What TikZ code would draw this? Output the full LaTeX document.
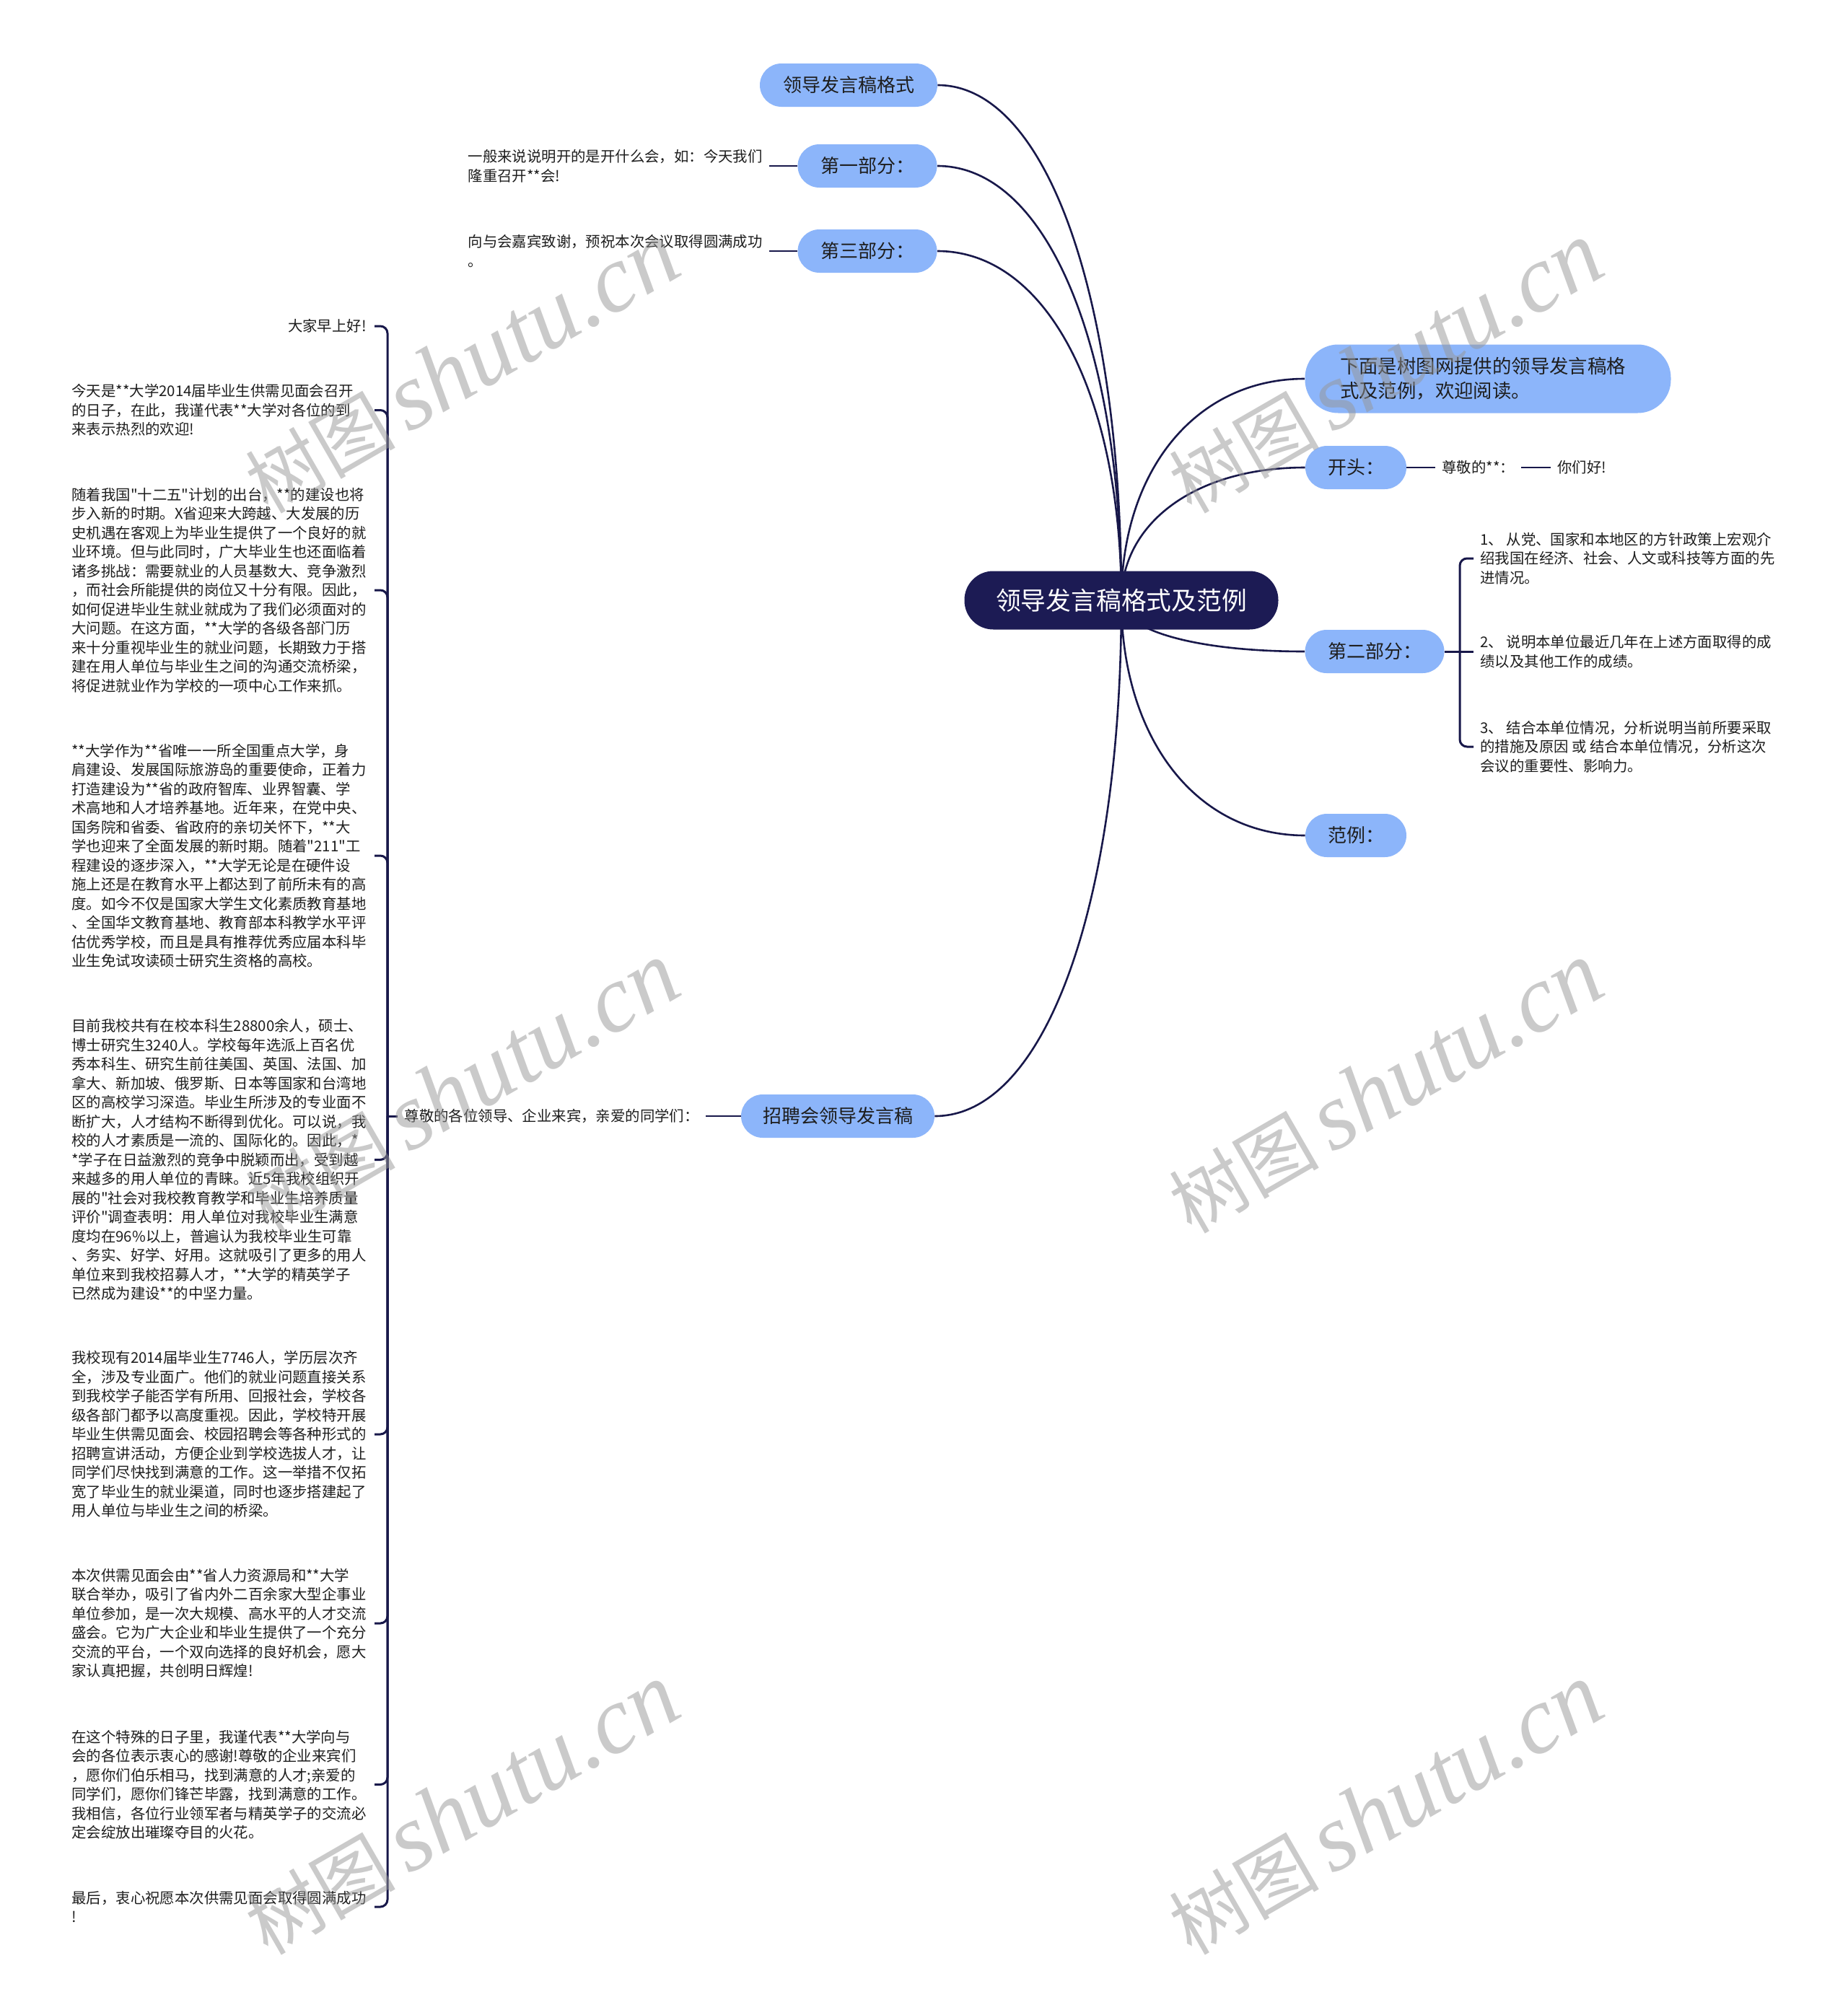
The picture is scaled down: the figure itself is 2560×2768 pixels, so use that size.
\documentclass[tikz,border=0pt]{standalone}
\usepackage{fontspec}
\setmainfont{Noto Sans CJK SC}
\newfontfamily\wmlat{Liberation Serif}
\font\dqfont="Noto Sans CJK SC" at 10.2pt
\newcommand\dq{{\dqfont\char34}}
\usetikzlibrary{calc}
\definecolor{navy}{RGB}{28,27,84}
\definecolor{nodeblue}{RGB}{140,181,250}
\definecolor{linecol}{RGB}{24,24,74}
\definecolor{txt}{RGB}{30,30,30}
\definecolor{wm}{RGB}{150,150,150}
\pgfdeclarelayer{bg}
\pgfsetlayers{bg,main}
\begin{document}
\begin{tikzpicture}[x=0.5pt,y=-0.5pt,
  conn/.style={draw=linecol, line width=1.3pt},
  brk/.style={draw=linecol, line width=1.5pt, rounded corners=5pt},
  rootnode/.style={rectangle, rounded corners=20pt, fill=navy, text=white, minimum width=217.5pt, minimum height=40.5pt, inner sep=0pt, font=\fontsize{17.4}{20}\selectfont},
  topic/.style={rectangle, rounded corners=15pt, fill=nodeblue, text=txt, minimum height=30pt, inner xsep=0pt, inner ysep=0pt, font=\fontsize{13}{16}\selectfont},
  plain/.style={text=txt, inner xsep=4.5pt, inner ysep=1pt, align=left, font=\fontsize{10.2}{13.25}\selectfont},
  blk/.style={plain, anchor=west},
  wmark/.style={text=wm, opacity=0.5, rotate=30, inner sep=0pt}
]
\useasboundingbox (0,0) rectangle (2560,2768);

% main nodes
\node[rootnode] (root) at (1554,832) {领导发言稿格式及范例};
\node[topic, minimum width=123pt] (fmt) at (1176,118) {领导发言稿格式};
\node[topic, minimum width=96.5pt] (p1) at (1202,230) {第一部分：};
\node[topic, minimum width=96.5pt] (p3) at (1202,348) {第三部分：};
\node[topic, minimum width=253.5pt, minimum height=47.5pt, rounded corners=23pt, text width=205pt, align=left, font=\fontsize{13.2}{17}\selectfont] (intro) at (2062,525) {下面是树图网提供的领导发言稿格\\式及范例，欢迎阅读。};
\node[topic, minimum width=70pt] (kt) at (1879,648) {开头：};
\node[topic, minimum width=96.5pt] (p2) at (1905,903) {第二部分：};
\node[topic, minimum width=70pt] (fl) at (1879,1158) {范例：};
\node[topic, minimum width=134pt] (zp) at (1161,1547) {招聘会领导发言稿};

% plain texts
\node[plain, anchor=east] (p1t) at (1066,230) {一般来说说明开的是开什么会，如：今天我们\\隆重召开**会!};
\node[plain, anchor=east] (p3t) at (1066,348) {向与会嘉宾致谢，预祝本次会议取得圆满成功\\。};
\node[plain, anchor=west] (kt1) at (1989,648) {尊敬的**：};
\node[plain, anchor=west] (kt2) at (2149,648) {你们好!};
\node[plain, anchor=west] (it1) at (2042,774) {1、 从党、国家和本地区的方针政策上宏观介\\绍我国在经济、社会、人文或科技等方面的先\\进情况。};
\node[plain, anchor=west] (it2) at (2042,903) {2、 说明本单位最近几年在上述方面取得的成\\绩以及其他工作的成绩。};
\node[plain, anchor=west] (it3) at (2042,1035) {3、 结合本单位情况，分析说明当前所要采取\\的措施及原因 或 结合本单位情况，分析这次\\会议的重要性、影响力。};
\node[plain, anchor=east] (zpt) at (978,1547) {尊敬的各位领导、企业来宾，亲爱的同学们：};

% left blocks
\node[plain, anchor=east] (b1) at (517,452) {大家早上好!};
\node[blk] (b2) at (90,568.5) {今天是**大学2014届毕业生供需见面会召开\\的日子，在此，我谨代表**大学对各位的到\\来表示热烈的欢迎!};
\node[blk] (b3) at (90,818) {随着我国\dq 十二五\dq 计划的出台，**的建设也将\\步入新的时期。X省迎来大跨越、大发展的历\\史机遇在客观上为毕业生提供了一个良好的就\\业环境。但与此同时，广大毕业生也还面临着\\诸多挑战：需要就业的人员基数大、竞争激烈\\，而社会所能提供的岗位又十分有限。因此，\\如何促进毕业生就业就成为了我们必须面对的\\大问题。在这方面，**大学的各级各部门历\\来十分重视毕业生的就业问题，长期致力于搭\\建在用人单位与毕业生之间的沟通交流桥梁，\\将促进就业作为学校的一项中心工作来抓。};
\node[blk] (b4) at (90,1186) {**大学作为**省唯一一所全国重点大学，身\\肩建设、发展国际旅游岛的重要使命，正着力\\打造建设为**省的政府智库、业界智囊、学\\术高地和人才培养基地。近年来，在党中央、\\国务院和省委、省政府的亲切关怀下，**大\\学也迎来了全面发展的新时期。随着\dq 211\dq 工\\程建设的逐步深入，**大学无论是在硬件设\\施上还是在教育水平上都达到了前所未有的高\\度。如今不仅是国家大学生文化素质教育基地\\、全国华文教育基地、教育部本科教学水平评\\估优秀学校，而且是具有推荐优秀应届本科毕\\业生免试攻读硕士研究生资格的高校。};
\node[blk] (b5) at (90,1607.5) {目前我校共有在校本科生28800余人，硕士、\\博士研究生3240人。学校每年选派上百名优\\秀本科生、研究生前往美国、英国、法国、加\\拿大、新加坡、俄罗斯、日本等国家和台湾地\\区的高校学习深造。毕业生所涉及的专业面不\\断扩大，人才结构不断得到优化。可以说，我\\校的人才素质是一流的、国际化的。因此，*\\*学子在日益激烈的竞争中脱颖而出，受到越\\来越多的用人单位的青睐。近5年我校组织开\\展的\dq 社会对我校教育教学和毕业生培养质量\\评价\dq 调查表明：用人单位对我校毕业生满意\\度均在96\%以上，普遍认为我校毕业生可靠\\、务实、好学、好用。这就吸引了更多的用人\\单位来到我校招募人才，**大学的精英学子\\已然成为建设**的中坚力量。};
\node[blk] (b6) at (90,1988) {我校现有2014届毕业生7746人，学历层次齐\\全，涉及专业面广。他们的就业问题直接关系\\到我校学子能否学有所用、回报社会，学校各\\级各部门都予以高度重视。因此，学校特开展\\毕业生供需见面会、校园招聘会等各种形式的\\招聘宣讲活动，方便企业到学校选拔人才，让\\同学们尽快找到满意的工作。这一举措不仅拓\\宽了毕业生的就业渠道，同时也逐步搭建起了\\用人单位与毕业生之间的桥梁。};
\node[blk] (b7) at (90,2250) {本次供需见面会由**省人力资源局和**大学\\联合举办，吸引了省内外二百余家大型企事业\\单位参加，是一次大规模、高水平的人才交流\\盛会。它为广大企业和毕业生提供了一个充分\\交流的平台，一个双向选择的良好机会，愿大\\家认真把握，共创明日辉煌!};
\node[blk] (b8) at (90,2473.5) {在这个特殊的日子里，我谨代表**大学向与\\会的各位表示衷心的感谢!尊敬的企业来宾们\\，愿你们伯乐相马，找到满意的人才;亲爱的\\同学们，愿你们锋芒毕露，找到满意的工作。\\我相信，各位行业领军者与精英学子的交流必\\定会绽放出璀璨夺目的火花。};
\node[blk] (b9) at (90,2643) {最后，衷心祝愿本次供需见面会取得圆满成功\\!};

% straight connectors
\draw[conn] (p1.west) -- (p1t.east);
\draw[conn] (p3.west) -- (p3t.east);
\draw[conn] (kt.east) -- (kt1.west);
\draw[conn] (kt1.east) -- (kt2.west);
\draw[conn] (zp.west) -- (zpt.east);
\coordinate (rj) at (2023,903);
\draw[brk] (p2.east) -- (it2.west);
\draw[brk] (rj) |- (it1.west);
\draw[brk] (rj) |- (it3.west);
\coordinate (lj) at (537,1547);
\coordinate (lend) at (519,1547);
\draw[brk] (zpt.west) -- (lj);
\foreach \n in {b1,b2,b3,b4,b5,b6,b7,b8,b9}
  \draw[brk] (lj) |- (\n.east -| lend);

% curved branches behind the nodes
\begin{pgfonlayer}{bg}
\fill[white] (0,0) rectangle (2560,2768);
\foreach \c/\a in {fmt/east, p1/east, p3/east, intro/west, kt/west, p2/west, fl/west, zp/east}
  \draw[conn] (root.center) .. controls ($(root.center)!0.58!(root.center|-\c.\a)$) and ($(\c.\a)!0.6!(\c.\a-|root.center)$) .. (\c.\a);
\end{pgfonlayer}

% watermarks
\foreach \x/\y [count=\i] in {640/510, 1920/510, 640/1508, 1920/1508, 640/2508, 1920/2508}
  \node[wmark] (wm\i) at (\x,\y) {\fontsize{52}{52}\selectfont 树图\,{\wmlat\itshape\fontsize{66}{66}\selectfont shutu.cn}};
\end{tikzpicture}
\end{document}
